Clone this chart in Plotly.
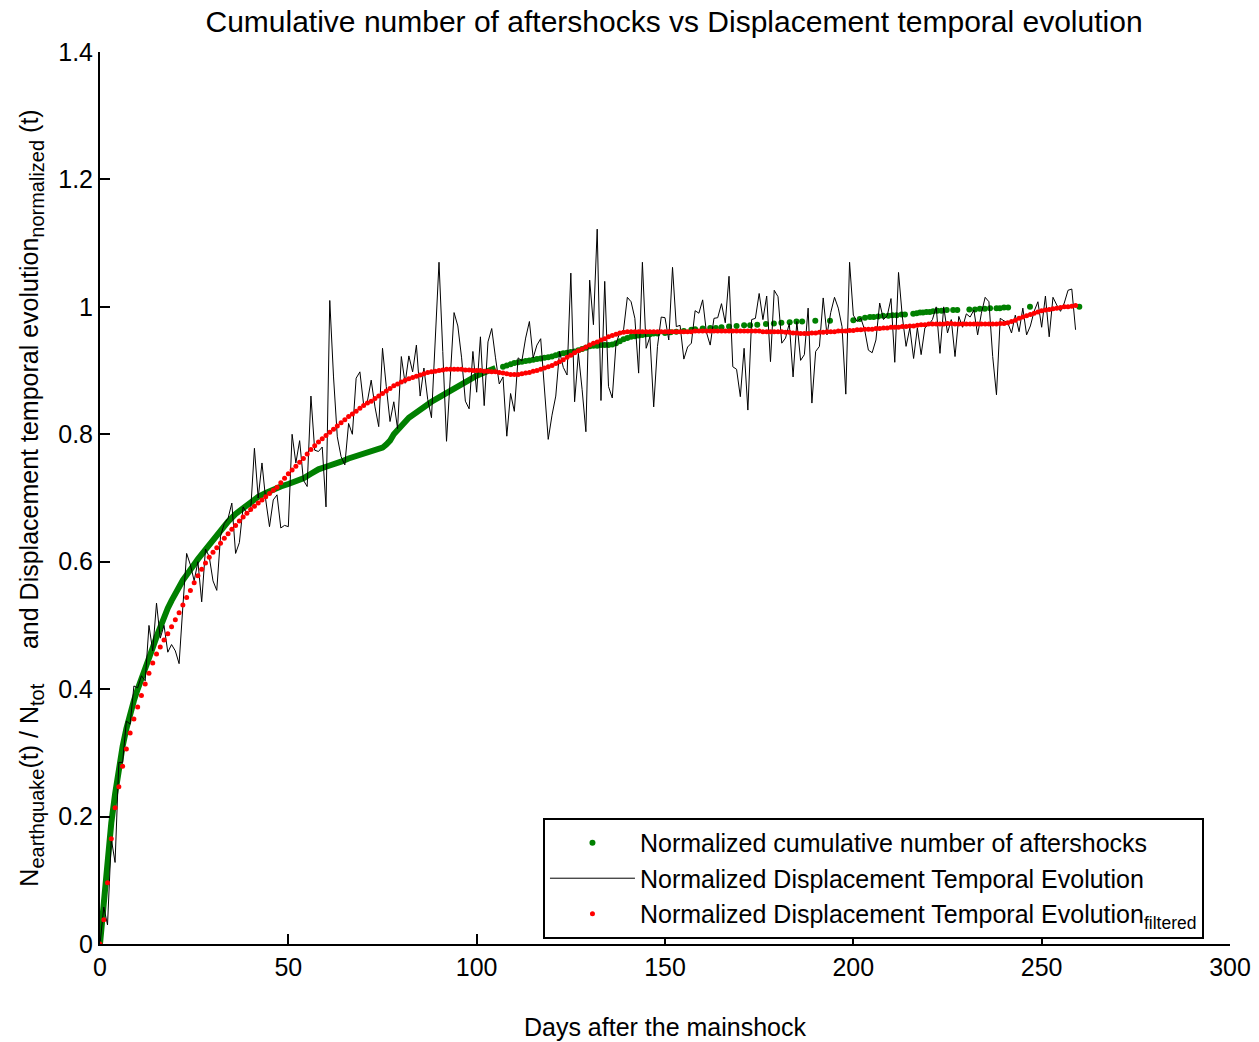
import plotly.graph_objects as go

# --- Daily samples (days after the mainshock) ---
days = list(range(260))

# Normalized displacement temporal evolution (raw, one value per day)
displacement = [
    0.000, 0.058, 0.030, 0.165, 0.128, 0.285, 0.285, 0.350, 0.345, 0.405,
    0.402, 0.421, 0.413, 0.500, 0.460, 0.535, 0.480, 0.500, 0.458, 0.470,
    0.460, 0.440, 0.530, 0.613, 0.595, 0.570, 0.600, 0.537, 0.620, 0.608,
    0.570, 0.555, 0.640, 0.660, 0.668, 0.692, 0.613, 0.630, 0.686, 0.676,
    0.680, 0.778, 0.700, 0.755, 0.697, 0.655, 0.697, 0.705, 0.653, 0.657,
    0.655, 0.800, 0.755, 0.790, 0.728, 0.718, 0.860, 0.775, 0.773, 0.780,
    0.686, 1.010, 0.890, 0.796, 0.765, 0.752, 0.817, 0.800, 0.888, 0.898,
    0.846, 0.852, 0.885, 0.843, 0.812, 0.935, 0.875, 0.820, 0.851, 0.809,
    0.922, 0.880, 0.923, 0.898, 0.940, 0.860, 0.904, 0.855, 0.826, 0.950,
    1.070, 0.930, 0.789, 0.890, 0.991, 0.970, 0.920, 0.852, 0.840, 0.930,
    0.866, 0.953, 0.845, 0.945, 0.966, 0.920, 0.879, 0.890, 0.797, 0.864,
    0.836, 0.920, 0.915, 0.951, 0.977, 0.920, 0.940, 0.950, 0.864, 0.792,
    0.830, 0.860, 0.930, 0.905, 0.893, 1.053, 0.851, 0.927, 0.870, 0.804,
    1.042, 0.972, 1.122, 0.853, 1.040, 0.875, 0.857, 0.943, 0.959, 0.964,
    1.015, 1.008, 0.982, 0.896, 1.070, 0.935, 0.953, 0.843, 0.938, 0.984,
    0.983, 0.948, 1.062, 0.969, 0.971, 0.918, 0.937, 0.943, 0.994, 0.990,
    1.011, 0.960, 0.940, 0.982, 0.983, 1.005, 0.975, 1.048, 0.906, 0.902,
    0.859, 0.935, 0.838, 0.980, 0.982, 1.021, 0.980, 1.017, 0.914, 1.026,
    1.016, 0.943, 0.951, 0.974, 0.890, 0.977, 0.916, 0.925, 0.998, 0.849,
    0.930, 0.938, 1.014, 0.956, 0.991, 1.015, 0.998, 0.969, 0.863, 1.070,
    0.987, 0.977, 0.982, 0.964, 0.932, 0.928, 0.948, 1.006, 0.980, 0.986,
    1.013, 0.913, 1.054, 0.985, 0.938, 0.967, 0.919, 0.967, 0.925, 0.967,
    0.972, 0.980, 1.000, 0.927, 1.000, 0.959, 0.980, 0.922, 0.985, 0.968,
    0.989, 0.984, 0.995, 0.956, 0.990, 1.015, 1.008, 0.922, 0.862, 0.982,
    0.978, 0.975, 0.959, 0.987, 0.961, 0.998, 0.956, 0.970, 0.993, 1.008,
    0.968, 1.017, 0.953, 1.015, 1.003, 0.993, 1.006, 1.026, 1.028, 0.964,
]

# Filtered displacement temporal evolution (one value per day)
displacement_filtered = [
    0.000, 0.038, 0.096, 0.165, 0.214, 0.247, 0.279, 0.306, 0.331, 0.353,
    0.372, 0.390, 0.408, 0.425, 0.441, 0.455, 0.466, 0.477, 0.487, 0.498,
    0.509, 0.520, 0.532, 0.544, 0.555, 0.567, 0.578, 0.588, 0.598, 0.607,
    0.615, 0.622, 0.629, 0.637, 0.644, 0.651, 0.657, 0.664, 0.670, 0.676,
    0.682, 0.687, 0.692, 0.697, 0.702, 0.707, 0.712, 0.717, 0.724, 0.731,
    0.738, 0.744, 0.750, 0.756, 0.762, 0.769, 0.776, 0.782, 0.788, 0.793,
    0.798, 0.803, 0.808, 0.813, 0.818, 0.823, 0.828, 0.832, 0.836, 0.841,
    0.845, 0.849, 0.852, 0.856, 0.860, 0.864, 0.868, 0.872, 0.876, 0.879,
    0.882, 0.885, 0.887, 0.889, 0.891, 0.893, 0.895, 0.897, 0.898, 0.899,
    0.900, 0.901, 0.902, 0.902, 0.902, 0.902, 0.902, 0.901, 0.901, 0.900,
    0.900, 0.900, 0.899, 0.899, 0.898, 0.898, 0.897, 0.896, 0.895, 0.894,
    0.894, 0.894, 0.895, 0.896, 0.897, 0.899, 0.900, 0.902, 0.904, 0.906,
    0.908, 0.911, 0.914, 0.917, 0.921, 0.924, 0.928, 0.931, 0.934, 0.937,
    0.940, 0.943, 0.945, 0.948, 0.950, 0.953, 0.955, 0.957, 0.959, 0.960,
    0.961, 0.961, 0.961, 0.961, 0.961, 0.961, 0.961, 0.961, 0.961, 0.961,
    0.961, 0.961, 0.961, 0.961, 0.961, 0.961, 0.961, 0.961, 0.962, 0.962,
    0.962, 0.962, 0.962, 0.962, 0.962, 0.962, 0.962, 0.962, 0.962, 0.962,
    0.962, 0.962, 0.962, 0.962, 0.962, 0.962, 0.961, 0.961, 0.961, 0.961,
    0.961, 0.961, 0.960, 0.960, 0.959, 0.959, 0.958, 0.958, 0.958, 0.959,
    0.959, 0.960, 0.960, 0.961, 0.961, 0.961, 0.962, 0.962, 0.962, 0.963,
    0.963, 0.964, 0.964, 0.965, 0.965, 0.965, 0.966, 0.966, 0.967, 0.967,
    0.968, 0.968, 0.968, 0.969, 0.969, 0.970, 0.970, 0.971, 0.972, 0.972,
    0.973, 0.973, 0.973, 0.973, 0.973, 0.974, 0.974, 0.973, 0.973, 0.973,
    0.973, 0.973, 0.973, 0.973, 0.973, 0.973, 0.973, 0.973, 0.973, 0.974,
    0.974, 0.975, 0.977, 0.979, 0.982, 0.984, 0.986, 0.988, 0.990, 0.992,
    0.994, 0.995, 0.996, 0.997, 0.998, 0.999, 1.000, 1.000, 1.001, 1.002,
]

# Normalized cumulative number of aftershocks: dense early part (days, value)
aftershock_dense_days = [
    0, 1, 2, 3, 4, 5, 6, 7, 8, 9,
    10, 11, 12, 13, 14, 15, 16, 17, 18, 19,
    20, 21, 22, 23, 24, 25, 26,
    28, 30, 32, 34, 36, 38, 40, 42, 44, 46, 48, 50,
    52, 54, 56, 58, 60, 62, 64, 66, 68, 70, 72, 74,
    75, 76, 77, 78, 79, 80,
    82, 84, 86, 88, 90, 92, 94, 96, 98, 100, 102, 104, 105,
]
aftershock_dense_vals = [
    0.000, 0.070, 0.140, 0.190, 0.235, 0.275, 0.310, 0.338, 0.362, 0.382,
    0.400, 0.418, 0.435, 0.449, 0.465, 0.482, 0.498, 0.513, 0.527, 0.539,
    0.551, 0.562, 0.571, 0.579, 0.588, 0.597, 0.604,
    0.619, 0.634, 0.649, 0.663, 0.675, 0.685, 0.694, 0.702, 0.708, 0.714, 0.718, 0.722,
    0.726, 0.731, 0.738, 0.745, 0.749, 0.752, 0.757, 0.762, 0.766, 0.769, 0.772, 0.776,
    0.779, 0.784, 0.790, 0.800, 0.808, 0.813,
    0.826, 0.835, 0.844, 0.851, 0.858, 0.865, 0.871, 0.878, 0.885, 0.892, 0.897, 0.902, 0.904,
]

# Later, sparser aftershocks (days, value)
aftershock_sparse_days = [
    107, 108, 109, 110, 111, 112, 113, 114, 115, 116,
    117, 118, 119, 120, 121, 122, 123, 124, 125, 126,
    127, 128, 129, 130, 131, 132, 133, 134, 135, 136,
    137, 138, 139, 140, 141, 142, 143, 144, 145, 146,
    147, 148, 150, 151.5, 153, 155, 157, 158, 160, 162,
    163.5, 165, 167, 169, 171, 172.6, 174.5, 176.8, 178.9, 180.9,
    183.1, 184.9, 186.4, 189.9, 193.8, 200, 201.7, 203.1, 204.4, 205.4,
    206.6, 207.9, 209.3, 210.4, 211.5, 212.8, 213.7, 215.9, 216.8, 217.7,
    218.5, 219.4, 220.3, 221.2, 222.3, 223.4, 224.8, 226.5, 227.6, 230.8,
    232.3, 233.6, 234.9, 236.3, 238, 238.9, 240, 241.1, 246.9, 260,
]
aftershock_sparse_vals = [
    0.906, 0.908, 0.910, 0.912, 0.913, 0.914, 0.915, 0.916, 0.917, 0.918,
    0.919, 0.920, 0.921, 0.922, 0.924, 0.926, 0.927, 0.928, 0.929, 0.930,
    0.932, 0.934, 0.936, 0.938, 0.939, 0.939, 0.940, 0.940, 0.940, 0.941,
    0.943, 0.946, 0.949, 0.951, 0.953, 0.954, 0.955, 0.956, 0.957, 0.957,
    0.958, 0.958, 0.959, 0.960, 0.961, 0.962, 0.964, 0.965, 0.966, 0.967,
    0.967, 0.968, 0.969, 0.970, 0.971, 0.971, 0.972, 0.973, 0.974, 0.975,
    0.976, 0.977, 0.977, 0.978, 0.978, 0.979, 0.981, 0.983, 0.984, 0.984,
    0.985, 0.986, 0.986, 0.987, 0.987, 0.988, 0.988, 0.989, 0.990, 0.991,
    0.991, 0.992, 0.992, 0.993, 0.994, 0.994, 0.995, 0.995, 0.995, 0.996,
    0.996, 0.997, 0.997, 0.998, 0.998, 0.998, 0.999, 0.999, 1.000, 1.000,
]

# Axis ticks
x_ticks = [0, 50, 100, 150, 200, 250, 300]
y_ticks = [0, 0.2, 0.4, 0.6, 0.8, 1.0, 1.2, 1.4]
y_tick_labels = ["0", "0.2", "0.4", "0.6", "0.8", "1", "1.2", "1.4"]

GREEN = "#008000"
RED = "#ff0000"
FONT = "Liberation Sans, Arial, Helvetica, sans-serif"


def sub(text):
    """Subscript a little larger than plotly's default 70 %."""
    return '<sub><span style="font-size:20px">' + text + "</span></sub>"


fig = go.Figure()

# Aftershocks, dense stretch drawn as a thick band of dots
fig.add_trace(go.Scatter(
    x=aftershock_dense_days, y=aftershock_dense_vals,
    mode="lines", line=dict(color=GREEN, width=6),
    showlegend=False, hoverinfo="skip",
))
# Aftershocks, individual dots
fig.add_trace(go.Scatter(
    x=aftershock_sparse_days, y=aftershock_sparse_vals,
    mode="markers", marker=dict(color=GREEN, size=6),
    name="Normalized cumulative number of aftershocks",
))
# Raw displacement
fig.add_trace(go.Scatter(
    x=days, y=displacement,
    mode="lines", line=dict(color="black", width=1),
    name="Normalized Displacement Temporal Evolution",
))
# Filtered displacement
fig.add_trace(go.Scatter(
    x=days, y=displacement_filtered,
    mode="markers", marker=dict(color=RED, size=5),
    name="Normalized Displacement Temporal Evolution<sub>filtered</sub>",
))

axis_common = dict(
    showline=True, linecolor="black", linewidth=2,
    ticks="inside", ticklen=10, tickwidth=2, tickcolor="black",
    showgrid=False, zeroline=False,
    tickfont=dict(family=FONT, size=25, color="black"),
)

fig.update_xaxes(
    range=[0, 300], tickvals=x_ticks,
    title=dict(text="Days after the mainshock", standoff=38,
               font=dict(family=FONT, size=25, color="black")),
    **axis_common,
)
fig.update_yaxes(
    range=[0, 1.4], tickvals=y_ticks, ticktext=y_tick_labels,
    title=dict(
        text=("N" + sub("earthquake") + "(t) / N" + sub("tot")
              + "\u00a0\u00a0\u00a0\u00a0\u00a0"
              + "and Displacement temporal evolution" + sub("normalized") + " (t)"),
        standoff=12,
        font=dict(family=FONT, size=25, color="black"),
    ),
    **axis_common,
)

fig.update_layout(
    width=1259, height=1042,
    margin=dict(l=100, r=29, t=52, b=98, autoexpand=False),
    plot_bgcolor="white", paper_bgcolor="white",
    font=dict(family=FONT, size=25, color="black"),
    title=dict(
        text="Cumulative number of aftershocks vs Displacement temporal evolution",
        x=0.508, xref="paper", xanchor="center",
        y=1 - 21 / 1042, yref="container", yanchor="middle",
        font=dict(family=FONT, size=30, color="black"),
    ),
    legend=dict(
        x=0.392, y=0.1413, xanchor="left", yanchor="top",
        bgcolor="white", bordercolor="black", borderwidth=2,
        font=dict(family=FONT, size=25, color="black"),
        itemwidth=85, tracegroupgap=0,
    ),
    showlegend=True,
)

fig.write_html("out.html")
